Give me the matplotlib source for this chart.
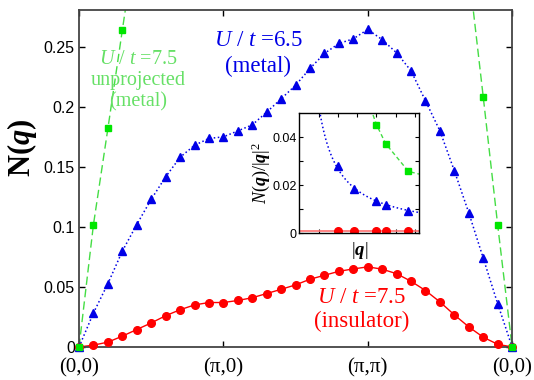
import matplotlib
matplotlib.use('Agg')
import matplotlib.pyplot as plt
import numpy as np

plt.rcParams['mathtext.fontset'] = 'custom'
plt.rcParams['mathtext.rm'] = 'Liberation Serif'
plt.rcParams['mathtext.it'] = 'Liberation Serif:italic'
plt.rcParams['mathtext.bf'] = 'Liberation Serif:bold'
plt.rcParams['mathtext.bfit'] = 'Liberation Serif:bold:italic'

# path (0,0) -> (pi,0) -> (pi,pi) -> (0,0), 10 steps per leg
path_labels = ['(0,0)', '(π,0)', '(π,π)', '(0,0)']
insulator = [0, 0.0015, 0.004, 0.009, 0.0145, 0.020, 0.026, 0.031, 0.035, 0.037,
             0.037, 0.0387, 0.041, 0.0445, 0.048, 0.0517, 0.0564, 0.0597, 0.063, 0.065,
             0.0667, 0.0648, 0.061, 0.0547, 0.047, 0.0375, 0.0267, 0.0167, 0.0081, 0.0022, 0]
metal = [0, 0.0283, 0.0528, 0.0798, 0.102, 0.123, 0.1417, 0.158, 0.168, 0.1737,
         0.175, 0.18, 0.185, 0.1956, 0.2067, 0.218, 0.232, 0.2445, 0.2528, 0.2567,
         0.2645, 0.256, 0.245, 0.23, 0.205, 0.18, 0.1467, 0.1117, 0.074, 0.036, 0]
unproj = [0, 0.102, 0.182, 0.264, 0.345] + [np.nan] * 22 + [0.313, 0.2083, 0.1017, 0]

# inset: N(q)/|q|^2 at the smallest |q| (units of 2pi/L)
q_small = [1.0, np.sqrt(2), 2.0, np.sqrt(5), np.sqrt(8)]
ins_small = [0.0011, 0.0011, 0.0011, 0.0011, 0.0011]
met_small = [0.0282, 0.0184, 0.0135, 0.0118, 0.0095]
unp_q = [2.0, np.sqrt(5), np.sqrt(8)]
unp_small = [0.0453, 0.0374, 0.0258]
unp_line_q = [1.85, 2.0, np.sqrt(5), np.sqrt(8), 3.2]
unp_line = [0.052, 0.0453, 0.0374, 0.0258, 0.0243]
ins_line_q = [0, 3.2]
ins_line = [0.0008, 0.0008]

red = '#ff0000'
blue = '#0000e6'
green = '#00e600'
green_line = '#44dd44'
green_txt = '#66e066'

x = np.arange(len(insulator))
ytop = 0.2808

fig = plt.figure(figsize=(5.34, 3.80), dpi=100)
ax = fig.add_axes([0.148, 0.087, 0.811, 0.887])

ax.plot(x, insulator, '-', color=red, lw=1)
ax.plot(x, metal, ':', color=blue, lw=1.1)
ax.plot(x, unproj, '--', color=green_line, lw=1, dashes=(6, 3))
ax.plot(x, insulator, 'o', ms=5.5, color=red, clip_on=False, zorder=3)
ax.plot(x, metal, '^', ms=6, color=blue, clip_on=False, zorder=3)
up = np.array(unproj)
up = np.where(up <= ytop, up, np.nan)
ax.plot(x, up, 's', ms=4.8, color=green, clip_on=False, zorder=4)

ax.set_xlim(0, 30)
ax.set_ylim(0, ytop)
ax.set_xticks([0, 10, 20, 30])
ax.set_xticklabels(path_labels, family='Liberation Serif', fontsize=15)
ax.set_yticks([0, 0.05, 0.1, 0.15, 0.2, 0.25])
ax.set_yticklabels(['0', '0.05', '0.1', '0.15', '0.2', '0.25'],
                   family='Liberation Sans', fontsize=11.5)
ax.tick_params(direction='in', top=True, right=True, length=4, width=1)
ax.tick_params(axis='x', pad=8)
ax.tick_params(axis='y', pad=3)
for s in ax.spines.values():
    s.set_color('#444444')
    s.set_linewidth(1.3)

fig.text(22 / 534, 1 - 148 / 380, r'$\mathbf{N(}\mathbfit{q}\mathbf{)}$', rotation=90,
         fontsize=22, ha='center', va='center')

ax.text(4.1, 0.2215, r'$U$ / $t$ =7.5' + '\nunprojected\n(metal)', color=green_txt,
        family='Liberation Serif', fontsize=14.5, ha='center', va='center', linespacing=1.15)
ax.text(12.4, 0.2445, r'$U$ / $t$ =6.5' + '\n(metal)', color=blue,
        family='Liberation Serif', fontsize=16.5, ha='center', va='center', linespacing=1.3)
ax.text(19.6, 0.0314, r'$U$ / $t$ =7.5' + '\n(insulator)', color=red,
        family='Liberation Serif', fontsize=16.5, ha='center', va='center', linespacing=1.15)

# inset
axi = fig.add_axes([299.3 / 534, 1 - 233.3 / 380, 120 / 534, 120 / 380])
axi.plot(ins_line_q, ins_line, '-', color='#ff7070', lw=1.2)
axi.plot(q_small, ins_small, 'o', color=red, ms=5.5)
c = np.mean(np.array(met_small) * np.array(q_small))
qq = np.linspace(0.3, 3.2, 100)
axi.plot(qq, c / qq, ':', color=blue, lw=1.1)
axi.plot(q_small, met_small, '^', color=blue, ms=6)
axi.plot(unp_line_q, unp_line, '--', color=green_line, lw=1, dashes=(3, 2))
axi.plot(unp_q, unp_small, 's', color=green, ms=4.8)

axi.set_xlim(0, 3.11)
axi.set_ylim(0, 0.05)
axi.set_xticks(np.arange(0.5, 3.1, 0.5))
axi.set_xticklabels([])
axi.set_yticks([0, 0.01, 0.02, 0.03, 0.04])
axi.set_yticklabels(['0', '', '0.02', '', '0.04'], family='Liberation Sans', fontsize=9)
axi.tick_params(direction='in', top=True, right=True, length=3, width=0.8, pad=2)
for s in axi.spines.values():
    s.set_linewidth(1)
axi.set_xlabel(r'$|\mathbfit{q}|$', fontsize=13.5, labelpad=3)
axi.set_ylabel(r'$N(\mathbfit{q})/|\mathbfit{q}|^2$', fontsize=13, labelpad=0)

fig.savefig('out.png', dpi=100)
